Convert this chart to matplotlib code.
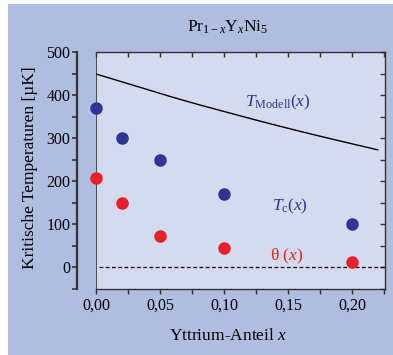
import matplotlib
matplotlib.use('Agg')
import matplotlib.pyplot as plt
from matplotlib.ticker import MultipleLocator, FuncFormatter
from matplotlib.patches import Rectangle

plt.rcParams['font.family'] = ['Liberation Serif', 'DejaVu Serif']
plt.rcParams['mathtext.fontset'] = 'custom'
plt.rcParams['mathtext.rm'] = 'Liberation Serif'
plt.rcParams['mathtext.it'] = 'Liberation Serif:italic'

# data
x_tc = [0.0, 0.02, 0.05, 0.10, 0.20]
tc = [370, 300, 250, 170, 100]
x_theta = [0.0, 0.02, 0.05, 0.10, 0.20]
theta = [207, 150, 72, 46, 13]
x_model = [0.0, 0.02, 0.04, 0.06, 0.08, 0.10, 0.12, 0.14, 0.16, 0.18, 0.20, 0.22]
t_model = [449, 431, 413, 395, 378, 362, 346, 330.5, 315.5, 301, 287, 273]

blue = '#2c3592'
red = '#e8202a'
dark = '#333333'

fig = plt.figure(figsize=(3.93, 3.55), dpi=100, facecolor='white')
fig.patches.append(Rectangle((8 / 393, 0), 1, 1 - 4 / 355, transform=fig.transFigure,
                             facecolor='#aebde0', edgecolor='none', zorder=-10))

ax = fig.add_axes([96 / 393, 1 - 289 / 355, 289 / 393, 237 / 355])
ax.set_facecolor('#d4dbee')
ax.set_xlim(0, 0.2258)
ax.set_ylim(-50, 500)

ax.plot(x_model, t_model, color='black', lw=1.0)
ax.axhline(0, xmin=0.012, xmax=1, color='black', lw=0.9, ls=(0, (3, 2)))
ax.plot(x_tc, tc, 'o', color=blue, ms=8, clip_on=False, zorder=5)
ax.plot(x_theta, theta, 'o', color=red, ms=8, clip_on=False, zorder=5)
ax.axvline(0, color=dark, lw=1.2)

ax.text(0.142, 384, r'$T_{\mathrm{Modell}}(x)$', color=blue, fontsize=12.5, ha='center', va='center')
ax.text(0.1515, 141, r'$T_{\mathrm{c}}(x)$', color=blue, fontsize=12.5, ha='center', va='center')
ax.text(0.149, 25, r'$\mathrm{\theta}\ (x)$', color=red, fontsize=12.5, ha='center', va='center')

for s in ['top', 'right', 'bottom']:
    ax.spines[s].set_color(dark)
    ax.spines[s].set_linewidth(1.0)
ax.spines['left'].set_position(('outward', 14))
ax.spines['left'].set_color(dark)
ax.spines['left'].set_linewidth(1.6)

ax.xaxis.set_major_locator(MultipleLocator(0.05))
ax.xaxis.set_minor_locator(MultipleLocator(0.025))
ax.yaxis.set_major_locator(MultipleLocator(100))
ax.yaxis.set_minor_locator(MultipleLocator(50))
ax.xaxis.set_major_formatter(FuncFormatter(lambda v, p: f'{v:.2f}'.replace('.', ',')))

ax.tick_params(axis='x', which='both', direction='out', top=False, length=3.5,
               width=1.0, color=dark, labelsize=11.5, pad=3)
ax.tick_params(axis='y', which='both', direction='out', right=False, length=3.5,
               width=1.2, color=dark, labelsize=11.5, pad=1)

# inner ticks on top and right
axt = ax.secondary_xaxis('top')
axt.xaxis.set_major_locator(MultipleLocator(0.025))
axt.tick_params(direction='in', length=3.5, width=1.0, color=dark, labeltop=False)
axt.spines['top'].set_visible(False)
axr = ax.secondary_yaxis('right')
axr.yaxis.set_major_locator(MultipleLocator(50))
axr.tick_params(direction='in', length=3.5, width=1.0, color=dark, labelright=False)
axr.spines['right'].set_visible(False)

fig.text(0.58, 1 - 27 / 355, r'Pr$_{1-x}$Y$_{x}$Ni$_{5}$', fontsize=12.5, ha='center', va='center')
fig.text(0.58, 1 - 336 / 355, r'Yttrium-Anteil $x$', fontsize=12.5, ha='center', va='center')
fig.text(30 / 393, 1 - 168 / 355, 'Kritische Temperaturen [µK]', fontsize=12.5,
         rotation=90, ha='center', va='center')

fig.savefig('out.png', dpi=100, facecolor=fig.get_facecolor())
